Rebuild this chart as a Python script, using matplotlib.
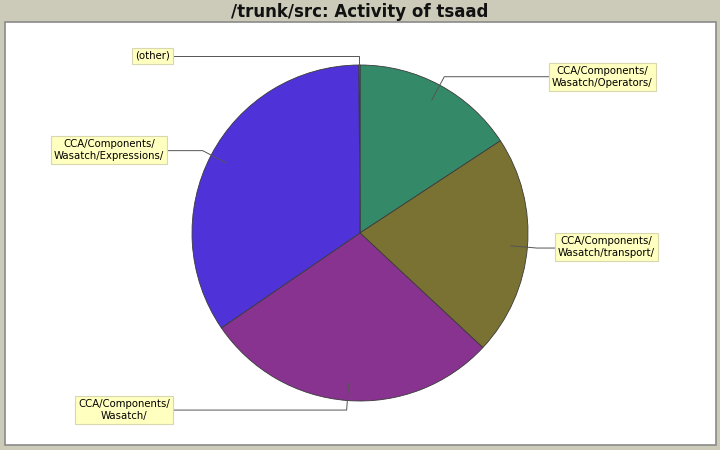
import numpy as np
import matplotlib
matplotlib.use("Agg")
import matplotlib.pyplot as plt

# ---- data ----
labels = ["CCA/Components/\nWasatch/Operators/",
          "CCA/Components/\nWasatch/transport/",
          "CCA/Components/\nWasatch/",
          "CCA/Components/\nWasatch/Expressions/",
          "(other)"]
values = [15.75, 21.2, 28.5, 34.45, 0.1]
colors = ["#348a68", "#7a7233", "#88338f", "#4f33d8", "#9999ff"]
title = "/trunk/src: Activity of tsaad"

# ---- layout (pixels, y measured from top) ----
W, H = 720, 450
cx, cy, R = 360, 233, 168
# label box: (side, near edge x, centre y)
label_layout = [("left", 549, 77), ("left", 555, 247), ("right", 173, 410),
                ("right", 167, 150), ("right", 173, 56)]

fig = plt.figure(figsize=(W / 100, H / 100), dpi=100)
fig.patch.set_facecolor("#cccbb9")
ax = fig.add_axes([0, 0, 1, 1])
ax.set_facecolor("#cccbb9")

def Y(y):
    return H - y

# white plot area
ax.add_patch(plt.Rectangle((5, Y(445)), 711, 423, facecolor="white",
                           edgecolor="#8a8a8a", lw=1.2, zorder=0))

wedges, _ = ax.pie(values, colors=colors, startangle=90, counterclock=False,
                   center=(cx, Y(cy)), radius=R, frame=True,
                   wedgeprops=dict(edgecolor="#3a3a3a", linewidth=0.6))
for w in wedges:
    w.set_zorder(2)

ax.set_xlim(0, W)
ax.set_ylim(0, H)
ax.set_aspect("equal")
ax.axis("off")

for w, lab, (side, ex, ly) in zip(wedges, labels, label_layout):
    mid = np.deg2rad((w.theta1 + w.theta2) / 2)
    px, py = cx + 0.9 * R * np.cos(mid), Y(cy) + 0.9 * R * np.sin(mid)
    qx, qy = cx + 1.057 * R * np.cos(mid), Y(cy) + 1.057 * R * np.sin(mid)
    if lab == "(other)":
        px, py = cx + R * np.cos(mid), Y(cy) + R * np.sin(mid)
        qx, qy = px, Y(ly)
    ax.plot([px, qx, ex], [py, qy, qy], color="#555555", lw=0.7, zorder=3)
    pad = 3
    tx = ex + pad if side == "left" else ex - pad
    ax.text(tx, Y(ly), lab, ha=side, va="center", multialignment="center",
            fontsize=7.3, family="DejaVu Sans", color="black", zorder=4,
            linespacing=1.25,
            bbox=dict(boxstyle="square,pad=0.3", facecolor="#ffffc0",
                      edgecolor="#d8d8b0", lw=0.8))

ax.text(W / 2, Y(12), title, ha="center", va="center", fontsize=12,
        fontweight="bold", family="DejaVu Sans", color="#111111")

fig.savefig("out.png", dpi=100, facecolor=fig.get_facecolor())
